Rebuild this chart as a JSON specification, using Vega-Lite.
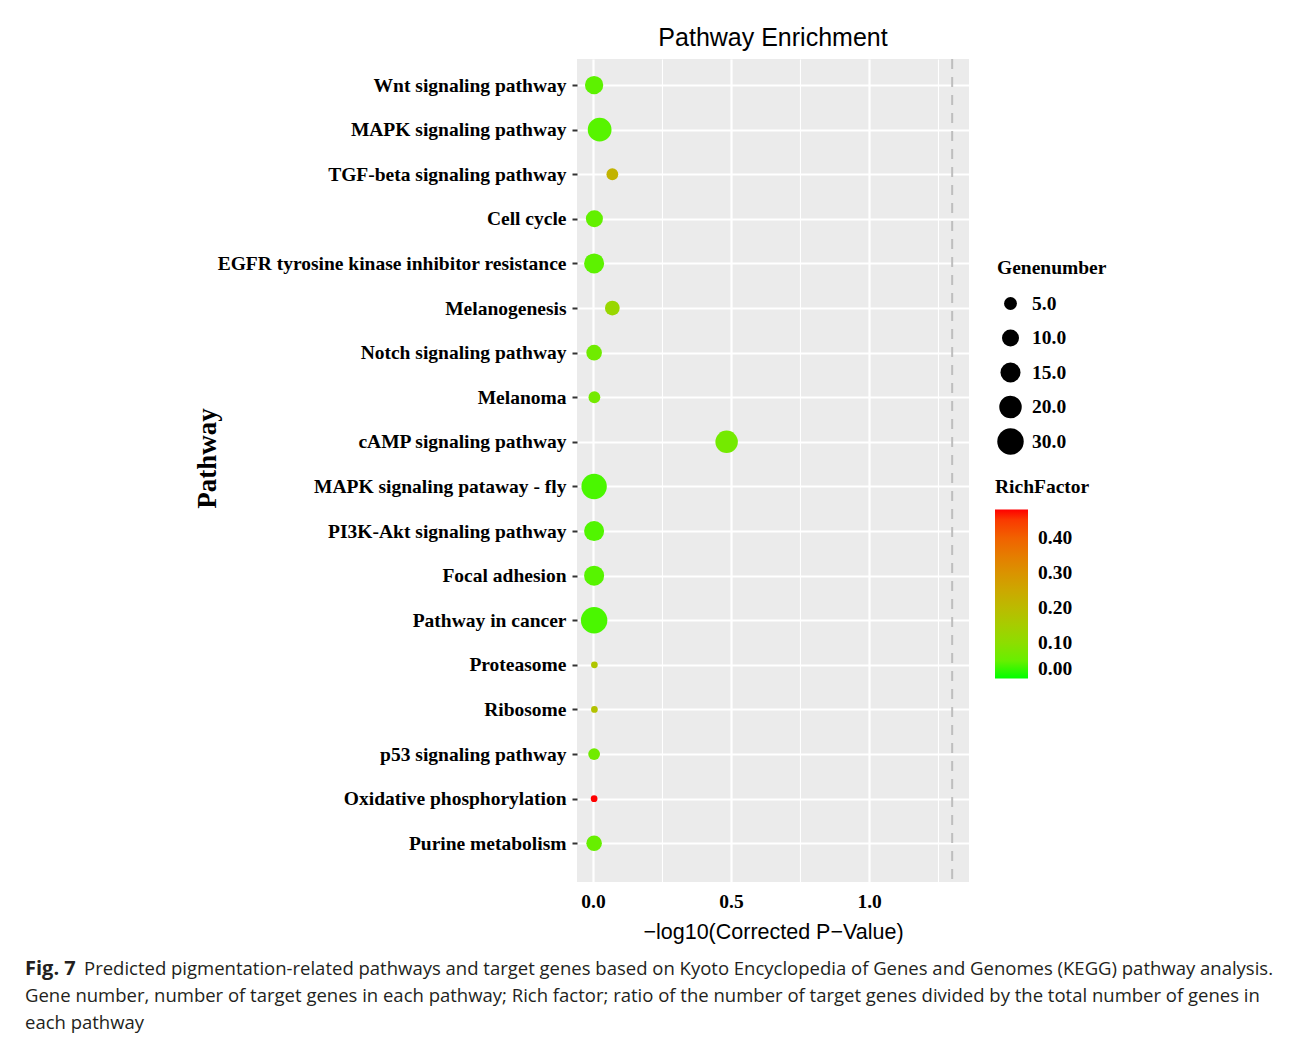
{
  "$schema": "https://vega.github.io/schema/vega-lite/v6.json",
  "background": "white",
  "padding": {"left": 25, "top": 26, "right": 5, "bottom": 5},
  "spacing": 16,
  "config": {
    "view": {"stroke": null},
    "axis": {"labelColor": "black", "titleColor": "black"},
    "legend": {"titleColor": "black", "labelColor": "black"}
  },
  "vconcat": [
    {
      "width": 392,
      "height": 823,
      "title": {"text": "Pathway Enrichment", "font": "Liberation Sans", "fontSize": 25, "fontWeight": "normal", "color": "black", "anchor": "middle", "frame": "group", "offset": 7},
      "view": {"fill": "#EBEBEB", "stroke": null},
      "layer": [
        {
          "data": {"values": [
            {"pathway": "Wnt signaling pathway", "pval": 0.004, "genes": 12, "rich": 0.04},
            {"pathway": "MAPK signaling pathway", "pval": 0.024, "genes": 23, "rich": 0.035},
            {"pathway": "TGF-beta signaling pathway", "pval": 0.07, "genes": 4, "rich": 0.22},
            {"pathway": "Cell cycle", "pval": 0.005, "genes": 10, "rich": 0.045},
            {"pathway": "EGFR tyrosine kinase inhibitor resistance", "pval": 0.004, "genes": 15, "rich": 0.04},
            {"pathway": "Melanogenesis", "pval": 0.07, "genes": 7, "rich": 0.12},
            {"pathway": "Notch signaling pathway", "pval": 0.004, "genes": 8, "rich": 0.06},
            {"pathway": "Melanoma", "pval": 0.005, "genes": 4, "rich": 0.065},
            {"pathway": "cAMP signaling pathway", "pval": 0.484, "genes": 20, "rich": 0.065},
            {"pathway": "MAPK signaling pataway - fly", "pval": 0.004, "genes": 27, "rich": 0.025},
            {"pathway": "PI3K-Akt signaling pathway", "pval": 0.004, "genes": 15, "rich": 0.03},
            {"pathway": "Focal adhesion", "pval": 0.004, "genes": 15, "rich": 0.035},
            {"pathway": "Pathway in cancer", "pval": 0.004, "genes": 30, "rich": 0.025},
            {"pathway": "Proteasome", "pval": 0.005, "genes": 1, "rich": 0.17},
            {"pathway": "Ribosome", "pval": 0.005, "genes": 1, "rich": 0.18},
            {"pathway": "p53 signaling pathway", "pval": 0.004, "genes": 4, "rich": 0.06},
            {"pathway": "Oxidative phosphorylation", "pval": 0.004, "genes": 1, "rich": 0.48},
            {"pathway": "Purine metabolism", "pval": 0.004, "genes": 8, "rich": 0.05}
          ]},
          "mark": {"type": "circle", "opacity": 1},
          "encoding": {
            "x": {
              "field": "pval", "type": "quantitative",
              "scale": {"domain": [-0.058, 1.362], "nice": false, "zero": false},
              "axis": {
                "title": "\u2212log10(Corrected P\u2212Value)",
                "titleFont": "Liberation Sans", "titleFontSize": 21.5, "titleFontWeight": "normal", "titlePadding": 11,
                "values": [0, 0.25, 0.5, 0.75, 1, 1.25],
                "labelExpr": "datum.value % 0.5 === 0 ? format(datum.value, '.1f') : ''",
                "labelFont": "Liberation Serif", "labelFontSize": 19.5, "labelFontWeight": "bold", "labelPadding": 10,
                "ticks": false, "tickSize": 0, "domain": false,
                "grid": true, "gridColor": "white",
                "gridWidth": {"condition": {"test": "datum.value % 0.5 === 0", "value": 2.2}, "value": 1.1}
              }
            },
            "y": {
              "field": "pathway", "type": "nominal", "sort": null,
              "scale": {"type": "point", "padding": 0.7265, "align": 0.402},
              "axis": {
                "title": "Pathway", "titleFont": "Liberation Serif", "titleFontSize": 27, "titleFontWeight": "bold", "titleX": -356, "titleY": 399,
                "labelFont": "Liberation Serif", "labelFontSize": 19.5, "labelFontWeight": "bold", "labelPadding": 6, "labelLimit": 0,
                "ticks": true, "tickSize": 5, "tickWidth": 2, "tickColor": "#333333", "domain": false,
                "grid": true, "gridColor": "white", "gridWidth": 2.2
              }
            },
            "size": {
              "field": "genes", "type": "quantitative",
              "scale": {"type": "pow", "exponent": 0.8, "domain": [1, 30], "range": [45, 700], "zero": false},
              "legend": {
                "title": "Genenumber", "values": [5, 10, 15, 20, 30], "format": ".1f",
                "orient": "none", "legendX": 420, "legendY": 200,
                "titleFont": "Liberation Serif", "titleFontSize": 19.5, "titleFontWeight": "bold", "titlePadding": 10,
                "labelFont": "Liberation Serif", "labelFontSize": 19.5, "labelFontWeight": "bold", "labelOffset": 8,
                "symbolType": "circle", "symbolFillColor": "black", "symbolStrokeColor": "black", "symbolStrokeWidth": 0, "symbolOpacity": 1,
                "clipHeight": 30, "rowPadding": 4.5
              }
            },
            "color": {
              "field": "rich", "type": "quantitative",
              "scale": {"domain": [0, 0.48], "range": ["#00FF00", "#FF0000"], "interpolate": "lab"},
              "legend": {
                "title": "RichFactor", "orient": "none", "legendX": 418, "legendY": 419, "direction": "vertical",
                "gradientLength": 169, "gradientThickness": 33, "gradientStrokeWidth": 0,
                "values": [0, 0.1, 0.2, 0.3, 0.4], "format": ".2f",
                "titleFont": "Liberation Serif", "titleFontSize": 19.5, "titleFontWeight": "bold", "titlePadding": 12,
                "labelFont": "Liberation Serif", "labelFontSize": 19.5, "labelFontWeight": "bold", "labelOffset": 10
              }
            }
          }
        },
        {
          "data": {"values": [{"threshold": 1.30103}]},
          "mark": {"type": "rule", "color": "#BEBEBE", "strokeWidth": 2, "strokeDash": [10, 8]},
          "encoding": {
            "x": {
              "field": "threshold", "type": "quantitative",
              "scale": {"domain": [-0.058, 1.362], "nice": false, "zero": false},
              "axis": {
                "title": "\u2212log10(Corrected P\u2212Value)",
                "titleFont": "Liberation Sans", "titleFontSize": 21.5, "titleFontWeight": "normal", "titlePadding": 11,
                "values": [0, 0.25, 0.5, 0.75, 1, 1.25],
                "labelExpr": "datum.value % 0.5 === 0 ? format(datum.value, '.1f') : ''",
                "labelFont": "Liberation Serif", "labelFontSize": 19.5, "labelFontWeight": "bold", "labelPadding": 10,
                "ticks": false, "tickSize": 0, "domain": false,
                "grid": true, "gridColor": "white",
                "gridWidth": {"condition": {"test": "datum.value % 0.5 === 0", "value": 2.2}, "value": 1.1}
              }
            }
          }
        }
      ]
    },
    {
      "width": 10,
      "height": 54,
      "data": {"values": [
        {"line": 1, "part": "fig", "text": "Fig. 7"},
        {"line": 1, "part": "first", "text": "Predicted pigmentation-related pathways and target genes based on Kyoto Encyclopedia of Genes and Genomes (KEGG) pathway analysis."},
        {"line": 2, "part": "rest", "text": "Gene number, number of target genes in each pathway; Rich factor; ratio of the number of target genes divided by the total number of genes in"},
        {"line": 3, "part": "rest", "text": "each pathway"}
      ]},
      "encoding": {
        "y": {"field": "line", "type": "ordinal", "scale": {"type": "point", "padding": 0}, "axis": null},
        "text": {"field": "text"}
      },
      "layer": [
        {
          "transform": [{"filter": "datum.part === 'fig'"}],
          "mark": {"type": "text", "align": "left", "baseline": "middle", "font": "Open Sans", "fontSize": 20, "fontWeight": "bold", "color": "#231F20", "dx": -552},
          "encoding": {"x": {"value": 0}}
        },
        {
          "transform": [{"filter": "datum.part === 'first'"}],
          "mark": {"type": "text", "align": "left", "baseline": "middle", "font": "Open Sans", "fontSize": 18.5, "color": "#231F20", "dx": -493},
          "encoding": {"x": {"value": 0}}
        },
        {
          "transform": [{"filter": "datum.part === 'rest'"}],
          "mark": {"type": "text", "align": "left", "baseline": "middle", "font": "Open Sans", "fontSize": 18.5, "color": "#231F20", "dx": -552},
          "encoding": {"x": {"value": 0}}
        }
      ]
    }
  ]
}
